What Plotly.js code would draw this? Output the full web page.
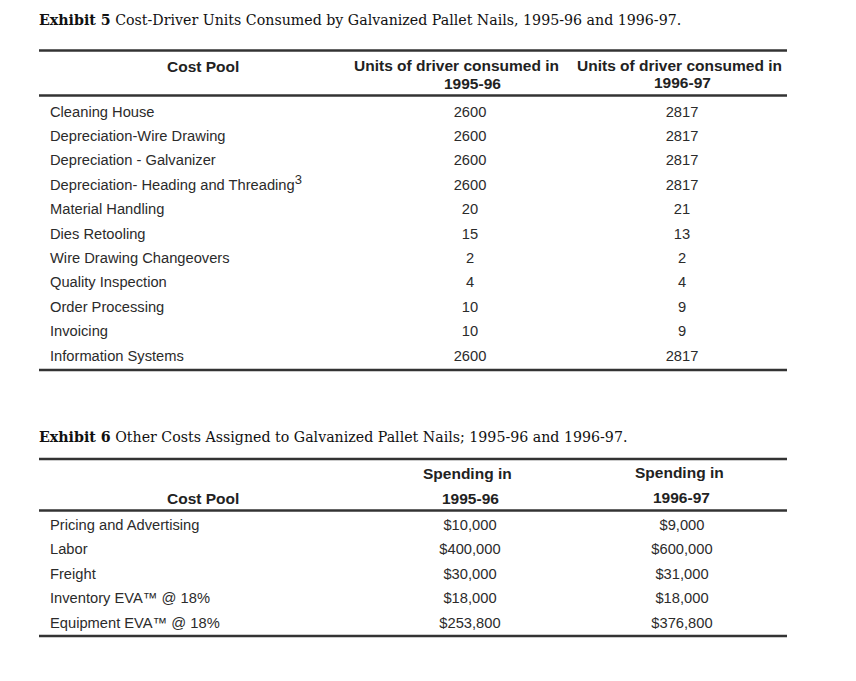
<!DOCTYPE html>
<html>
<head>
<meta charset="utf-8">
<script src="https://cdn.plot.ly/plotly-3.0.1.min.js"></script>
<style>
  html, body { margin: 0; padding: 0; background: #fff; }
  #draw { width: 856px; height: 681px; }
</style>
</head>
<body>
<div id="draw"></div>
<script>
// Exhibit 5 data
const pools5 = [
  'Cleaning House',
  'Depreciation-Wire Drawing',
  'Depreciation - Galvanizer',
  'Depreciation- Heading and Threading<sup><span style="font-size:13px">3</span></sup>',
  'Material Handling',
  'Dies Retooling',
  'Wire Drawing Changeovers',
  'Quality Inspection',
  'Order Processing',
  'Invoicing',
  'Information Systems'
]
const units9596 = [2600, 2600, 2600, 2600, 20, 15, 2, 4, 10, 10, 2600]
const units9697 = [2817, 2817, 2817, 2817, 21, 13, 2, 4, 9, 9, 2817]

// Exhibit 6 data
const pools6 = [
  'Pricing and Advertising',
  'Labor',
  'Freight',
  'Inventory EVA™ @ 18%',
  'Equipment EVA™ @ 18%'
]
const spend9596 = [10000, 400000, 30000, 18000, 253800]
const spend9697 = [9000, 600000, 31000, 18000, 376800]

const title5 = '<b>Exhibit 5</b> Cost-Driver Units Consumed by Galvanized Pallet Nails, 1995-96 and 1996-97.'
const title6 = '<b>Exhibit 6</b> Other Costs Assigned to Galvanized Pallet Nails; 1995-96 and 1996-97.'

const main = () => {
  const SANS = 'Liberation Sans, Arial, sans-serif'
  const SERIF = 'DejaVu Serif, serif'
  const INK = '#2b2b2b'
  const fs = 14.7
  const hfs = 15.5

  const xLabel = 50, xCol1 = 470, xCol2 = 682
  const rows = (first, step, n) => [...Array(n)].map((v, i) => first + i * step)
  const money = (v) => '$' + v.toLocaleString('en-US')

  const y5 = rows(113, 24.4, pools5.length)
  const y6 = rows(526, 24.5, pools6.length)

  const textTrace = (x, y, text, pos) => ({
    x: x, y: y, text: text, mode: 'text', type: 'scatter',
    textposition: pos, hoverinfo: 'skip', showlegend: false,
    textfont: {family: SANS, size: fs, color: INK}
  })

  const data = [
    textTrace(y5.map(v => xLabel), y5, pools5, 'middle right'),
    textTrace(y5.map(v => xCol1), y5, units9596.map(String), 'middle center'),
    textTrace(y5.map(v => xCol2), y5, units9697.map(String), 'middle center'),
    textTrace(y6.map(v => xLabel), y6, pools6, 'middle right'),
    textTrace(y6.map(v => xCol1), y6, spend9596.map(money), 'middle center'),
    textTrace(y6.map(v => xCol2), y6, spend9697.map(money), 'middle center')
  ]

  const hline = (y) => ({
    type: 'line', xref: 'x', yref: 'y', x0: 39, x1: 787, y0: y, y1: y,
    line: {color: '#333', width: 2.6}
  })

  const note = (x, y, text, opts = {}) => Object.assign({
    x: x, y: y, xref: 'x', yref: 'y', text: text, showarrow: false,
    xanchor: 'center', yanchor: 'middle',
    font: {family: SANS, size: fs, color: INK}
  }, opts)
  const bold = (x, y, text) => note(x, y, '<b>' + text + '</b>', {font: {family: SANS, size: hfs, color: '#222'}})
  const titleFont = {family: SERIF, size: 14.2, color: '#111'}

  const annotations = [
    note(37, 20, title5, {xanchor: 'left', font: titleFont}),
    bold(203, 66, 'Cost Pool'),
    bold(456, 65, 'Units of driver consumed in'),
    bold(472, 83, '1995-96'),
    bold(679, 65, 'Units of driver consumed in'),
    bold(682, 82, '1996-97'),

    note(37, 437, title6, {xanchor: 'left', font: titleFont}),
    bold(467, 473, 'Spending in'),
    bold(470, 498, '1995-96'),
    bold(203, 498, 'Cost Pool'),
    bold(679, 472, 'Spending in'),
    bold(681, 497, '1996-97')
  ]

  const hiddenAxis = (range) => ({
    range: range, visible: false, showgrid: false, zeroline: false, fixedrange: true
  })

  const layout = {
    width: 856, height: 681,
    margin: {l: 0, r: 0, t: 0, b: 0},
    paper_bgcolor: '#fff', plot_bgcolor: '#fff',
    xaxis: hiddenAxis([0, 856]),
    yaxis: hiddenAxis([681, 0]),
    shapes: [hline(50.5), hline(95.5), hline(370), hline(459), hline(510.5), hline(636)],
    annotations: annotations,
    hovermode: false,
    showlegend: false
  }

  Plotly.newPlot('draw', data, layout, {staticPlot: true, displayModeBar: false})
}

main()
</script>
</body>
</html>
